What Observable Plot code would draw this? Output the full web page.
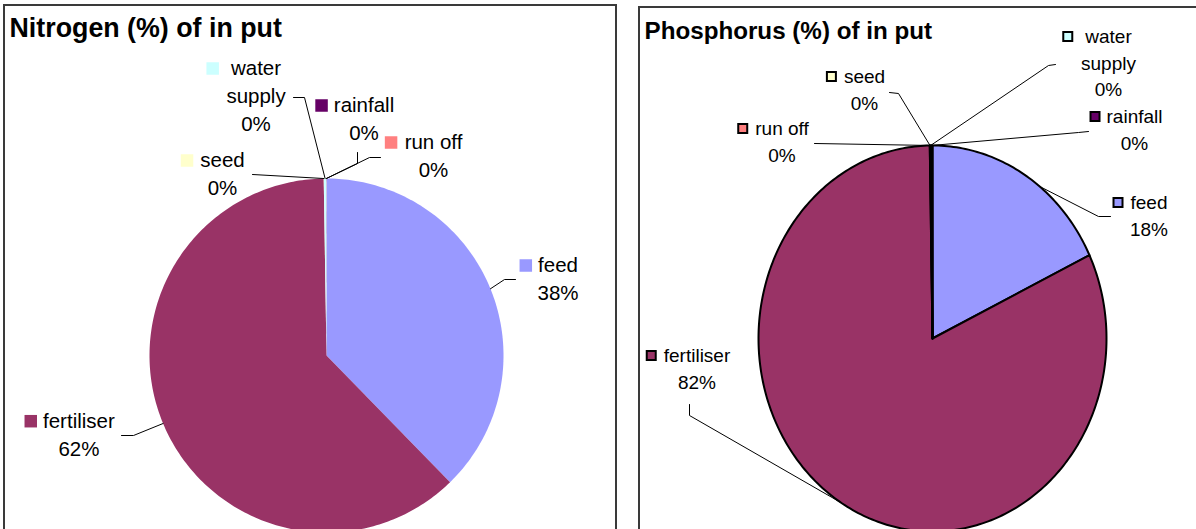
<!DOCTYPE html>
<html><head><meta charset="utf-8">
<script src="https://cdn.jsdelivr.net/npm/d3@7"></script>
<script src="https://cdn.jsdelivr.net/npm/@observablehq/plot@0.6"></script>
<style>
html,body{margin:0;padding:0;background:#fff;width:1196px;height:529px;overflow:hidden;position:relative;}
.box{position:absolute;box-sizing:border-box;border:2px solid #3a3a3a;background:#fff;overflow:hidden;}
.box svg{display:block;}
</style></head><body>
<div id="left" class="box" style="left:3px;top:4px;width:614px;height:600px"></div>
<div id="right" class="box" style="left:638px;top:6px;width:600px;height:600px"></div>
<script>
// ---- data ----
const categories = ["feed", "fertiliser", "seed", "water supply", "rainfall", "run off"];
const sliceColors = ["#9999FF", "#993366", "#FFFFCC", "#CCFFFF", "#660066", "#FF8080"];
const nitrogenValues = [37.7, 62.05, 0.02, 0.21, 0.01, 0.01];
const phosphorusValues = [17.9, 81.85, 0.05, 0.05, 0.1, 0.05];
const titles = ["Nitrogen (%) of in put", "Phosphorus (%) of in put"];
const displayNames = {"water supply": "water\nsupply"};

// ---- layout (page pixel positions of label blocks and leader elbows) ----
const leftLayout = {
  origin: [5, 6], center: [326, 355], radius: [177, 177],
  font: 20.5, lineHeight: 1.37, titleFont: 26.8, titleAt: [4, 30], outline: false, keySide: 12.5,
  labels: [
    {name: "feed", at: [557.5, 265], gap: 6, elbow: [[515, 279], [504, 279]]},
    {name: "fertiliser", at: [78.4, 420.7], gap: 6, elbow: [[121, 435], [133, 435]]},
    {name: "seed", at: [222, 160], gap: 7, elbow: [[252, 174]]},
    {name: "water supply", at: [255.5, 68], gap: 12, elbow: [[293, 97], [304, 97]]},
    {name: "rainfall", at: [363.5, 105], gap: 6, elbow: [[357, 152], [357, 163]]},
    {name: "run off", at: [433, 142], gap: 7.3, elbow: [[380, 157], [369, 157]]}
  ]
};
const rightLayout = {
  origin: [640, 8], center: [932, 338], radius: [174, 193],
  font: 19, lineHeight: 1.4, titleFont: 24.2, titleAt: [4, 30], outline: true, keySide: 9,
  labels: [
    {name: "feed", at: [1148.5, 202], gap: 7, elbow: [[1110, 216], [1098, 216]], edge: 38},
    {name: "fertiliser", at: [696.5, 355], gap: 7, elbow: [[689, 404], [689, 415]]},
    {name: "seed", at: [864, 76], gap: 7, elbow: [[889, 92], [898, 93]]},
    {name: "water supply", at: [1108, 36], gap: 12, elbow: [[1055, 64], [1048, 65]]},
    {name: "rainfall", at: [1134, 116], gap: 6, elbow: [[1088, 131], [1078, 132]]},
    {name: "run off", at: [781.5, 128], gap: 7, elbow: [[814, 143]]}
  ]
};

const FONT = '"Liberation Sans", Arial, Helvetica, sans-serif';
const measureCtx = document.createElement("canvas").getContext("2d");
function textWidth(s, size) { measureCtx.font = `${size}px ${FONT}`; return measureCtx.measureText(s).width; }

function draw(container, values, title, L) {
  const W = container.clientWidth, H = container.clientHeight;
  const cx = L.center[0] - L.origin[0], cy = L.center[1] - L.origin[1];
  const [rx, ry] = L.radius;
  const toU = ([px, py]) => [(px - L.origin[0] - cx) / rx, (cy - (py - L.origin[1])) / ry];
  const total = d3.sum(values);
  const arcs = d3.pie().sort(null).value(d => d.value)(categories.map((name, i) => ({name, value: values[i]})));
  const byName = new Map(arcs.map(a => [a.data.name, a]));

  const slicePts = [];
  for (const a of arcs) {
    const name = a.data.name;
    const n = Math.max(2, Math.ceil((a.endAngle - a.startAngle) / (Math.PI / 180)));
    slicePts.push({name, x: 0, y: 0});
    for (let k = 0; k <= n; k++) {
      const t = a.startAngle + (a.endAngle - a.startAngle) * k / n;
      slicePts.push({name, x: Math.sin(t), y: Math.cos(t)});
    }
  }

  const labelPts = [], keyPts = [], leaderPts = [];
  for (const lab of L.labels) {
    const a = byName.get(lab.name);
    const pct = Math.round(a.data.value / total * 100) + "%";
    const shown = displayNames[lab.name] || lab.name;
    const firstLine = shown.split("\n")[0];
    const [ux, uy] = toU([lab.at[0], lab.at[1] - 0.65 * L.font]);
    labelPts.push({name: lab.name, x: ux, y: uy, text: shown + "\n" + pct});
    const w = textWidth(firstLine, L.font);
    const kx = lab.at[0] - w / 2 - lab.gap - (L.keySide + (L.outline ? 2 : 0)) / 2;
    const [kux, kuy] = toU([kx, lab.at[1]]);
    keyPts.push({name: lab.name, x: kux, y: kuy});
    for (const e of lab.elbow) { const [ex, ey] = toU(e); leaderPts.push({name: lab.name, x: ex, y: ey}); }
    const m = lab.edge != null ? lab.edge * Math.PI / 180 : (a.startAngle + a.endAngle) / 2;
    leaderPts.push({name: lab.name, x: Math.sin(m), y: Math.cos(m)});
  }

  const plot = Plot.plot({
    width: W, height: H, margin: 0,
    x: {domain: [-1, 1], range: [cx - rx, cx + rx], axis: null},
    y: {domain: [-1, 1], range: [cy + ry, cy - ry], axis: null},
    color: {domain: categories, range: sliceColors},
    style: {fontFamily: FONT, background: "white", overflow: "visible"},
    marks: [
      Plot.line(slicePts, {x: "x", y: "y", z: "name", fill: "name",
        stroke: L.outline ? "black" : "none", strokeWidth: L.outline ? 2 : 0,
        curve: "linear-closed", strokeLinejoin: "round"}),
      Plot.line(leaderPts, {x: "x", y: "y", z: "name", stroke: "black", strokeWidth: 1}),
      Plot.dot(keyPts, {x: "x", y: "y", fill: "name", symbol: "square",
        r: L.keySide / Math.sqrt(Math.PI),
        stroke: L.outline ? "black" : "none", strokeWidth: L.outline ? 2 : 0}),
      Plot.text(labelPts, {x: "x", y: "y", text: "text", fontSize: L.font, lineAnchor: "top",
        textAnchor: "middle", lineHeight: L.lineHeight, fill: "black"}),
      Plot.text([title], {frameAnchor: "top-left", dx: L.titleAt[0], dy: L.titleAt[1],
        lineAnchor: "bottom", textAnchor: "start", fontSize: L.titleFont, fontWeight: "bold", fill: "black"})
    ]
  });
  container.appendChild(plot);
}

draw(document.getElementById("left"), nitrogenValues, titles[0], leftLayout);
draw(document.getElementById("right"), phosphorusValues, titles[1], rightLayout);
</script>
</body></html>
